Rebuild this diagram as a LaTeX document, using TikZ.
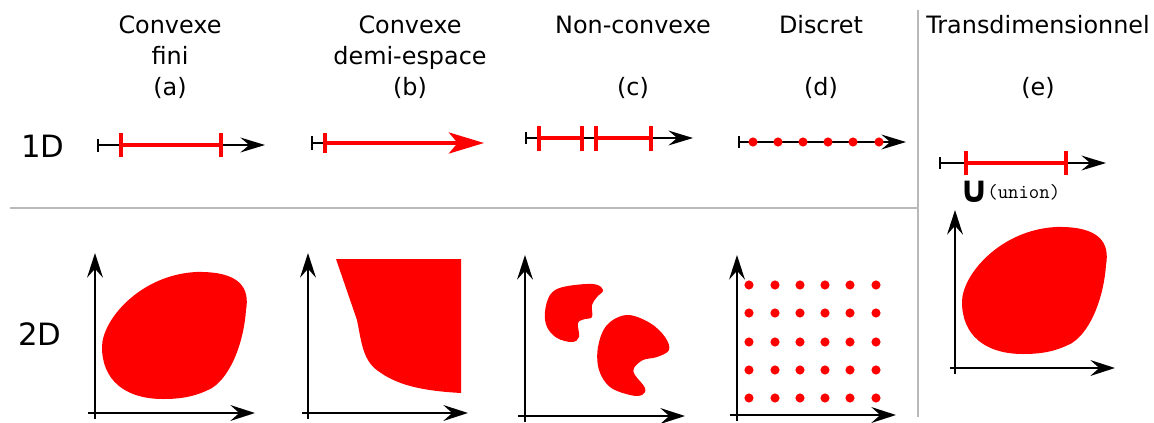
\documentclass[tikz,border=0pt]{standalone}
\usepackage{fontspec}
\setmainfont{DejaVu Sans}
\usetikzlibrary{arrows.meta}
\begin{document}
\begin{tikzpicture}[x=0.02cm,y=-0.02cm,
  hdr/.style={font=\fontsize{13.6}{16}\selectfont, anchor=base, inner sep=0pt},
  rowlbl/.style={font=\fontsize{17.5}{20}\selectfont, anchor=base west, inner sep=0pt},
  ax/.style={black, line width=1.3pt, -{Stealth[length=14pt,width=9pt,inset=5pt]}},
  axone/.style={black, line width=1pt, -{Stealth[length=14pt,width=8.5pt,inset=5pt]}},
  endtick/.style={black, line width=1pt},
  seg/.style={red, line width=2pt},
  sep/.style={gray!55, line width=1pt},
  blob/.style={red}
]
\useasboundingbox (0,0) rectangle (1154,423);

% separators
\draw[sep] (10,208) -- (918,208);
\draw[sep] (918,10) -- (918,417);

% headers
\node[hdr] (ha1) at (170,33) {Convexe};
\node[hdr] (ha2) at (170,64) {fini};
\node[hdr] (ha3) at (170,95) {(a)};
\node[hdr] (hb1) at (410,33) {Convexe};
\node[hdr] (hb2) at (410,64) {demi-espace};
\node[hdr] (hb3) at (410,95) {(b)};
\node[hdr] (hc1) at (633,33) {Non-convexe};
\node[hdr] (hc3) at (633,95) {(c)};
\node[hdr] (hd1) at (821,33) {Discret};
\node[hdr] (hd3) at (821,95) {(d)};
\node[hdr] (he1) at (1038,33) {Transdimensionnel};
\node[hdr] (he3) at (1038,95) {(e)};

% row labels
\node[rowlbl] (r1) at (21,157) {1D};
\node[rowlbl] (r2) at (18,345) {2D};

% ---- 1D (a)
\draw[axone] (98,145) -- (265,145);
\draw[endtick] (98,139) -- (98,152);
\draw[seg] (121,145) -- (221,145);
\draw[seg] (121,133) -- (121,157);
\draw[seg] (221,133) -- (221,157);

% ---- 1D (b)
\draw[endtick] (312,143) -- (325,143);
\draw[endtick] (312,136) -- (312,150);
\draw[seg, -{Stealth[length=20pt,width=12pt,inset=5pt]}] (325,143) -- (484,143);
\draw[seg] (325,133) -- (325,153);

% ---- 1D (c)
\draw[axone] (526,138) -- (693,138);
\draw[endtick] (526,132) -- (526,144);
\draw[seg] (539,138) -- (582,138);
\draw[seg] (596,138) -- (651,138);
\foreach \xx in {539,582,596,651} \draw[seg] (\xx,126) -- (\xx,151);

% ---- 1D (d)
\draw[axone] (739,142) -- (906,142);
\draw[endtick] (739,136) -- (739,148);
\foreach \xx in {753,778,803,828,853,879} \fill[red] (\xx,142) circle (2.6pt);

% ---- 1D (e)
\draw[axone] (940,163) -- (1106,163);
\draw[endtick] (940,157) -- (940,169);
\draw[seg] (966,163) -- (1066,163);
\draw[seg] (966,151) -- (966,175);
\draw[seg] (1066,151) -- (1066,175);
\node[anchor=base west, inner sep=0pt, font=\fontsize{21}{24}\selectfont\bfseries] (cup) at (959,202) {∪};
\node[anchor=base west, inner sep=0pt, font=\fontsize{11.5}{13}\selectfont\ttfamily] (un) at (987,198) {(union)};

% ---- 2D (a)
\draw[ax] (88,413) -- (255,413);
\draw[ax] (95,419) -- (95,253);
\fill[blob] (102,347) .. controls (102,320) and (140,275) .. (196,272)
  .. controls (240,271) and (250,288) .. (246,310)
  .. controls (244,340) and (232,375) .. (212,388)
  .. controls (195,397) and (180,399) .. (163,399)
  .. controls (125,399) and (102,380) .. (102,347) -- cycle;

% ---- 2D (b)
\draw[ax] (302,413) -- (468,413);
\draw[ax] (308,419) -- (308,253);
\fill[blob] (336,259) -- (461,259) -- (461,393)
  .. controls (425,391) and (400,386) .. (381,373)
  .. controls (363,362) and (362,345) .. (357,320) -- cycle;

% ---- 2D (c)
\draw[ax] (518,416) -- (685,416);
\draw[ax] (525,422) -- (525,255);
\fill[blob] plot[smooth cycle, tension=0.6] coordinates {
 (545,312) (550,295) (563,287) (593,284) (603,290) (597,297) (592,305)
 (592,317) (585,319) (578,323) (579,337) (572,342) (557,338) (547,327)};
\fill[blob] plot[smooth cycle, tension=0.6] coordinates {
 (598,347) (607,325) (627,315) (650,323) (665,337) (669,350) (657,357)
 (643,360) (634,368) (635,375) (645,388) (642,395) (630,395) (610,387) (599,370)};

% ---- 2D (d)
\draw[ax] (730,415) -- (896,415);
\draw[ax] (737,421) -- (737,255);
\foreach \xx in {749,775,800,825,850,876}
  \foreach \yy in {285,313,342,370,398}
    \fill[red] (\xx,\yy) circle (2.6pt);

% ---- 2D (e)
\begin{scope}[shift={(860,-45)}]
\draw[ax] (90,413) -- (255,413);
\draw[ax] (95,419) -- (95,255);
\fill[blob] (102,347) .. controls (102,320) and (140,275) .. (196,272)
  .. controls (240,271) and (250,288) .. (246,310)
  .. controls (244,340) and (232,375) .. (212,388)
  .. controls (195,397) and (180,399) .. (163,399)
  .. controls (125,399) and (102,380) .. (102,347) -- cycle;
\end{scope}
\end{tikzpicture}
\end{document}
